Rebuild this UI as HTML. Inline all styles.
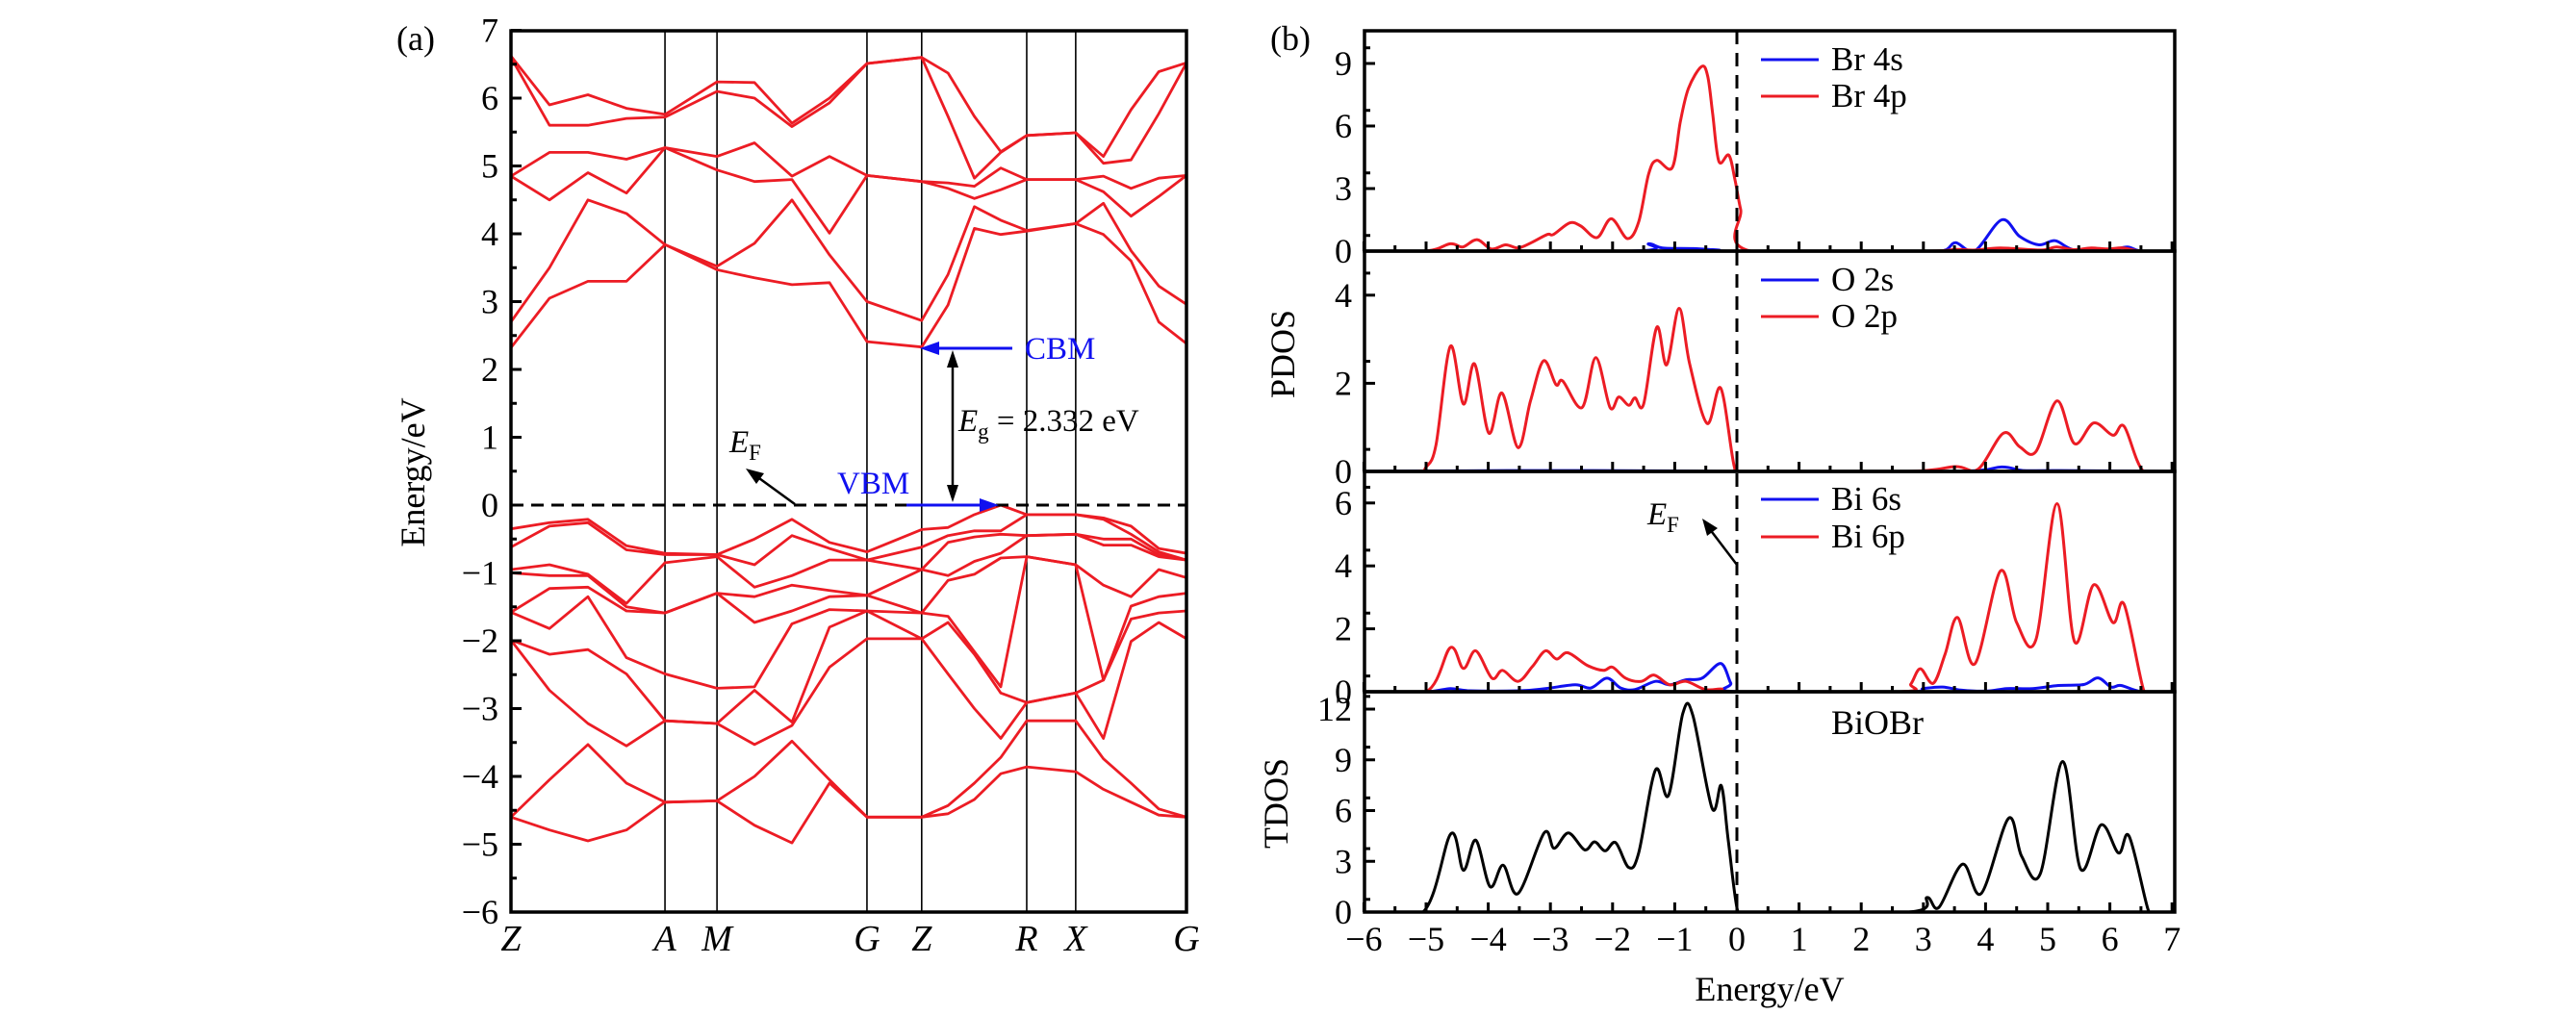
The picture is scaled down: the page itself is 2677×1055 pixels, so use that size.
<!DOCTYPE html>
<html>
<head>
<meta charset="utf-8">
<style>
html,body{margin:0;padding:0;background:#fff;}
svg{display:block;font-family:"Liberation Serif",serif;}
</style>
</head>
<body>
<svg id="chart" xmlns="http://www.w3.org/2000/svg" width="2677" height="1055" viewBox="0 0 2677 1055">
  <rect x="0" y="0" width="2677" height="1055" fill="#fff"/>
  <g id="panelA"></g>
  <g id="panelB"></g>
</svg>
<script>
// ---------------- DATA ----------------
const symLabels = ["Z","A","M","G","Z","R","X","G"];
const symK = [0, 0.228, 0.305, 0.527, 0.608, 0.7635, 0.836, 1.0];
const kGrid = [0,0.057,0.114,0.171,0.228,0.305,0.3605,0.416,0.4715,0.527,0.608,0.647,0.686,0.725,0.7635,0.836,0.877,0.918,0.959,1.0];
const valenceCols = [
 [-0.35,-0.62,-0.95,-1.0,-1.58,-1.58,-1.99,-1.99,-4.6,-4.6],
 [-0.26,-0.31,-0.88,-1.04,-1.23,-1.82,-2.2,-2.73,-4.05,-4.79],
 [-0.21,-0.26,-1.02,-1.04,-1.21,-1.35,-2.13,-3.22,-3.53,-4.95],
 [-0.6,-0.66,-1.45,-1.5,-1.56,-2.25,-2.49,-3.55,-4.1,-4.79],
 [-0.71,-0.73,-0.85,-1.59,-1.59,-2.49,-3.18,-3.18,-4.38,-4.38],
 [-0.73,-0.73,-0.76,-1.3,-1.3,-2.7,-3.22,-3.22,-4.36,-4.36],
 [-0.5,-0.88,-1.21,-1.35,-1.73,-2.68,-2.73,-3.53,-4.0,-4.72],
 [-0.21,-0.45,-1.04,-1.18,-1.56,-1.75,-3.2,-3.25,-3.48,-4.98],
 [-0.55,-0.64,-0.81,-1.26,-1.35,-1.54,-1.8,-2.39,-4.05,-4.1],
 [-0.69,-0.81,-0.81,-1.33,-1.33,-1.56,-1.56,-1.97,-4.6,-4.6],
 [-0.36,-0.62,-0.95,-0.95,-1.59,-1.59,-1.97,-1.97,-4.6,-4.6],
 [-0.33,-0.45,-0.55,-1.04,-1.11,-1.64,-1.73,-2.49,-4.43,-4.55],
 [-0.14,-0.38,-0.47,-0.83,-1.02,-2.16,-2.2,-3.0,-4.1,-4.34],
 [0,-0.38,-0.43,-0.71,-0.78,-2.68,-2.77,-3.44,-3.72,-3.96],
 [-0.14,-0.14,-0.45,-0.45,-0.76,-0.76,-2.91,-2.91,-3.18,-3.86],
 [-0.14,-0.14,-0.43,-0.43,-0.88,-0.88,-2.77,-2.77,-3.18,-3.93],
 [-0.19,-0.21,-0.5,-0.59,-1.18,-2.58,-2.58,-3.44,-3.74,-4.19],
 [-0.31,-0.43,-0.5,-0.59,-1.35,-1.49,-1.68,-2.01,-4.1,-4.38],
 [-0.64,-0.69,-0.73,-0.76,-0.95,-1.35,-1.59,-1.73,-4.48,-4.57],
 [-0.71,-0.81,-0.81,-0.81,-1.07,-1.3,-1.56,-1.97,-4.6,-4.6]
];
const conductionCols = [
 [2.32,2.7,4.85,4.85,6.6,6.62],
 [3.05,3.5,4.5,5.2,5.6,5.9],
 [3.3,4.5,4.9,5.2,5.6,6.05],
 [3.3,4.3,4.6,5.1,5.7,5.85],
 [3.84,3.84,5.27,5.27,5.72,5.76],
 [3.47,3.52,4.94,5.14,6.1,6.24],
 [3.35,3.86,4.77,5.34,6.0,6.23],
 [3.25,4.5,4.8,4.85,5.58,5.63],
 [3.28,3.69,4.01,5.14,5.93,6.0],
 [2.41,3.0,4.86,4.86,6.51,6.51],
 [2.33,2.72,4.77,4.77,6.6,6.6],
 [2.95,3.4,4.67,4.75,5.73,6.37],
 [4.08,4.4,4.52,4.7,4.82,5.73],
 [3.99,4.2,4.65,4.97,5.2,5.21],
 [4.04,4.05,4.8,4.8,5.45,5.45],
 [4.15,4.15,4.8,4.8,5.49,5.49],
 [3.99,4.45,4.62,4.85,5.04,5.14],
 [3.6,3.75,4.26,4.67,5.09,5.83],
 [2.7,3.23,4.55,4.82,5.77,6.39],
 [2.38,2.96,4.86,4.86,6.52,6.52]
];
const bandYTicks = [-6,-5,-4,-3,-2,-1,0,1,2,3,4,5,6,7];

const br4pE = [-6,-5.0,-4.61,-4.41,-4.18,-3.95,-3.72,-3.52,-3.31,-3.05,-2.95,-2.69,-2.51,-2.25,-2.02,-1.76,-1.58,-1.42,-1.29,-1.04,-0.91,-0.78,-0.57,-0.47,-0.39,-0.29,-0.13,-0.03,0.06,0.22,3.0,3.52,3.83,4.24,4.9,5.14,5.42,5.7,5.96,6.21,6.5,7];
const br4pV = [0,0,0.35,0.2,0.55,0.1,0.3,0.15,0.4,0.8,0.8,1.35,1.2,0.65,1.55,0.6,1.4,3.7,4.35,4.0,6.2,7.8,8.85,8.4,6.6,4.3,4.6,3.4,2.0,0,0,0.08,0.05,0.15,0.05,0.2,0.07,0.15,0.1,0.15,0,0];
const br4sE = [-6,-1.7,-1.42,-1.2,-0.7,-0.3,0,3.0,3.35,3.52,3.83,4.26,4.55,4.86,5.12,5.43,5.99,6.28,6.5,7];
const br4sV = [0,0,0.35,0.15,0.12,0.05,0,0,0.05,0.4,0.02,1.5,0.7,0.3,0.5,0.05,0.05,0.2,0,0];
const o2pE = [-6,-5.15,-5.0,-4.84,-4.61,-4.40,-4.22,-3.99,-3.78,-3.52,-3.32,-3.11,-2.91,-2.80,-2.49,-2.27,-2.04,-1.90,-1.74,-1.64,-1.50,-1.29,-1.13,-0.93,-0.76,-0.48,-0.26,-0.04,0.1,2.74,3.52,3.88,4.29,4.55,4.81,5.15,5.43,5.74,6.05,6.23,6.54,7];
const o2pV = [0,0,0.1,0.6,2.84,1.53,2.44,0.87,1.78,0.54,1.6,2.51,1.97,2.05,1.45,2.58,1.45,1.69,1.5,1.67,1.53,3.27,2.42,3.7,2.44,1.09,1.89,0.1,0,0,0.11,0.05,0.87,0.56,0.45,1.6,0.63,1.1,0.82,1.02,0,0];
const o2sE = [-6,-5,-3,-1,0,3.5,4.26,4.6,5.2,7];
const o2sV = [0,0.01,0.02,0.01,0,0,0.1,0.02,0.02,0];
const bi6pE = [-6,-5.0,-4.61,-4.40,-4.2,-3.94,-3.77,-3.52,-3.29,-3.08,-2.9,-2.72,-2.41,-2.15,-2.0,-1.79,-1.54,-1.33,-1.08,-0.82,-0.51,-0.25,-0.04,2.64,2.8,2.95,3.16,3.35,3.55,3.83,4.24,4.5,4.81,5.15,5.43,5.74,6.05,6.23,6.54,6.67,7];
const bi6pV = [0,0,1.4,0.74,1.3,0.43,0.68,0.33,0.8,1.3,1.04,1.24,0.84,0.68,0.78,0.43,0.33,0.53,0.22,0.33,0.07,0.09,0,0,0.25,0.73,0.27,1.2,2.36,0.89,3.84,2.2,1.65,5.98,1.6,3.4,2.2,2.77,0.07,0,0];
const bi6sE = [-6,-5.0,-4.61,-4.3,-3.5,-3.08,-2.6,-2.35,-2.09,-1.87,-1.64,-1.31,-1.08,-0.82,-0.56,-0.26,-0.1,0,2.7,3.0,3.31,3.62,4.03,4.34,4.76,5.17,5.58,5.81,6.02,6.18,6.51,7];
const bi6sV = [0,0,0.1,0.03,0.03,0.1,0.22,0.12,0.43,0.12,0.07,0.33,0.22,0.38,0.43,0.9,0.28,0,0,0.1,0.15,0.05,0.02,0.1,0.1,0.2,0.23,0.44,0.15,0.2,0,0];
const tdosE = [-6,-5.05,-4.6,-4.4,-4.2,-3.97,-3.76,-3.52,-3.1,-2.94,-2.71,-2.45,-2.29,-2.12,-1.95,-1.74,-1.58,-1.31,-1.1,-0.87,-0.71,-0.4,-0.25,-0.14,0.01,0.15,2.77,3.06,3.25,3.63,3.93,4.37,4.58,4.88,5.24,5.53,5.86,6.14,6.31,6.61,6.7,7];
const tdosV = [0,0,4.63,2.47,4.25,1.5,2.77,1.1,4.68,3.77,4.68,3.68,4.15,3.62,4.1,2.64,3.49,8.4,6.9,11.74,11.65,6.14,7.47,4.25,0.1,0,0,0.86,0.28,2.83,1.1,5.54,3.3,2.25,8.9,2.54,5.16,3.49,4.48,0.2,0,0];
const dosXTicks = [-6,-5,-4,-3,-2,-1,0,1,2,3,4,5,6,7];
const brTicks = [0,3,6,9];
const oTicks = [0,2,4];
const biTicks = [0,2,4,6];
const tdosTicks = [0,3,6,9,12];

// ---------------- HELPERS ----------------
const NS = "http://www.w3.org/2000/svg";
const RED = "#ec1c24", BLUE = "#1010f0";
function el(tag, parent) { const e = document.createElementNS(NS, tag); parent.appendChild(e); return e; }
function setA(e, o) { for (const k in o) e.setAttribute(k, o[k]); return e; }

const AX0 = 531, AX1 = 1233, AY0 = 32, AY1 = 948;
const xA = k => AX0 + k * (AX1 - AX0);
const yA = E => 525 - E * 70.5;
const BX0 = 1418, BX1 = 2260;
const xB = E => 1805 + E * 64.6;
const subs = [
  {name:"br", top:32, zero:261, scale:21.67, ticks:brTicks, minor:1.5},
  {name:"o", top:261, zero:490, scale:45.8, ticks:oTicks, minor:1},
  {name:"bi", top:490, zero:719, scale:32.7, ticks:biTicks, minor:1},
  {name:"tdos", top:719, zero:948, scale:17.58, ticks:tdosTicks, minor:1.5}
];

function smoothPath(pts) {
  let d = "M" + pts[0][0].toFixed(1) + "," + pts[0][1].toFixed(1);
  for (let i = 0; i < pts.length - 1; i++) {
    const p0 = pts[Math.max(0, i - 1)], p1 = pts[i], p2 = pts[i + 1], p3 = pts[Math.min(pts.length - 1, i + 2)];
    const c1x = p1[0] + (p2[0] - p0[0]) / 6, c1y = p1[1] + (p2[1] - p0[1]) / 6;
    const c2x = p2[0] - (p3[0] - p1[0]) / 6, c2y = p2[1] - (p3[1] - p1[1]) / 6;
    d += "C" + c1x.toFixed(1) + "," + c1y.toFixed(1) + " " + c2x.toFixed(1) + "," + c2y.toFixed(1) + " " + p2[0].toFixed(1) + "," + p2[1].toFixed(1);
  }
  return d;
}

// ---------------- PANEL A ----------------
const gA = document.getElementById("panelA");
const defs = el("defs", document.getElementById("chart"));
let clipHtml = '<clipPath id="clipA"><rect x="531" y="32" width="702" height="916"/></clipPath>';
subs.forEach(s => { clipHtml += '<clipPath id="clip-' + s.name + '"><rect x="1418" y="' + s.top + '" width="842" height="' + (s.zero - s.top + 1.5) + '"/></clipPath>'; });
defs.innerHTML = clipHtml;

symK.slice(1, -1).forEach((k, i) => {
  const l = el("line", gA);
  setA(l, {x1: xA(k), x2: xA(k), y1: AY0, y2: AY1, stroke: "#000", "stroke-width": 1.6});
  
  
});

const gBands = el("g", gA);
gBands.setAttribute("clip-path", "url(#clipA)");


function drawBands(cols, label) {
  const nb = cols[0].length;
  for (let b = 0; b < nb; b++) {
    const pts = kGrid.map((k, j) => [xA(k), yA(cols[j][b])]);
    const p = el("polyline", gBands);
    setA(p, {points: pts.map(q => q[0].toFixed(1) + "," + q[1].toFixed(1)).join(" "), fill: "none", stroke: RED, "stroke-width": 2.8, "stroke-linejoin": "round"});
    
    
  }
}
drawBands(valenceCols, "valence");
drawBands(conductionCols, "conduction");

const fl = el("line", gA);
setA(fl, {x1: AX0, x2: AX1, y1: yA(0), y2: yA(0), stroke: "#000", "stroke-width": 3, "stroke-dasharray": "13 8"});



const frA = el("rect", gA);
setA(frA, {x: AX0, y: AY0, width: AX1 - AX0, height: AY1 - AY0, fill: "none", stroke: "#000", "stroke-width": 3.5});



bandYTicks.forEach(v => {
  const t = el("line", gA);
  setA(t, {x1: AX0, x2: AX0 + 11, y1: yA(v), y2: yA(v), stroke: "#000", "stroke-width": 3});
  
  
  if (v < 7) {
    const m = el("line", gA);
    setA(m, {x1: AX0, x2: AX0 + 6, y1: yA(v + 0.5), y2: yA(v + 0.5), stroke: "#000", "stroke-width": 3});
    
    
  }
  const tx = el("text", gA);
  setA(tx, {x: 518, y: yA(v) + 12, "text-anchor": "end", "font-size": 36, fill: "#000"});
  tx.textContent = v < 0 ? "\u2212" + Math.abs(v) : String(v);
  
  
});
symK.forEach((k, i) => {
  const tx = el("text", gA);
  setA(tx, {x: xA(k), y: 988, "text-anchor": "middle", "font-size": 38, "font-style": "italic", fill: "#000"});
  tx.textContent = symLabels[i];
  
  
});
</script>
<script>
(function(){
const g = document.getElementById("panelA");
g.insertAdjacentHTML("beforeend",
 '<text x="412" y="52" font-size="36">(a)</text>' +
 '<text transform="translate(441,491) rotate(-90)" text-anchor="middle" font-size="36">Energy/eV</text>' +
 '<line x1="1052" y1="362" x2="972" y2="362" stroke="#1010f0" stroke-width="3"/>' +
 '<path d="M956,362 L976,355 L976,369 Z" fill="#1010f0"/>' +
 '<text x="1065" y="373" font-size="33" fill="#1010f0">CBM</text>' +
 '<line x1="942" y1="525" x2="1022" y2="525" stroke="#1010f0" stroke-width="3"/>' +
 '<path d="M1038,525 L1018,518 L1018,532 Z" fill="#1010f0"/>' +
 '<text x="870" y="513" font-size="33" fill="#1010f0">VBM</text>' +
 '<line x1="990" y1="378" x2="990" y2="508" stroke="#000" stroke-width="2.5"/>' +
 '<path d="M990,364 L984,382 L996,382 Z" fill="#000"/>' +
 '<path d="M990,522 L984,504 L996,504 Z" fill="#000"/>' +
 '<text x="996" y="448" font-size="33"><tspan font-style="italic">E</tspan><tspan font-size="23" dy="8">g</tspan><tspan dy="-8"> = 2.332 eV</tspan></text>' +
 '<text x="758" y="470" font-size="33"><tspan font-style="italic">E</tspan><tspan font-size="23" dy="8">F</tspan></text>' +
 '<line x1="826" y1="524" x2="782" y2="492" stroke="#000" stroke-width="2.5"/>' +
 '<path d="M775,487 L794,492 L786,503 Z" fill="#000"/>'
);
})();
</script>
<script>
(function(){
const gB = document.getElementById("panelB");
function curve(E, V, sub, color, name) {
  const pts = E.map((e, i) => [xB(e), sub.zero - Math.max(0, V[i]) * sub.scale]);
  const p = el("path", gB);
  setA(p, {d: smoothPath(pts), fill: "none", stroke: color, "stroke-width": 3, "clip-path": "url(#clip-" + sub.name + ")"});
  
  
}
curve(br4sE, br4sV, subs[0], BLUE, "br-4s-curve");
curve(br4pE, br4pV, subs[0], RED, "br-4p-curve");
curve(o2sE, o2sV, subs[1], BLUE, "o-2s-curve");
curve(o2pE, o2pV, subs[1], RED, "o-2p-curve");
curve(bi6sE, bi6sV, subs[2], BLUE, "bi-6s-curve");
curve(bi6pE, bi6pV, subs[2], RED, "bi-6p-curve");
curve(tdosE, tdosV, subs[3], "#000", "tdos-curve");

const fv = el("line", gB);
setA(fv, {x1: xB(0), x2: xB(0), y1: 32, y2: 948, stroke: "#000", "stroke-width": 3, "stroke-dasharray": "14 9"});



subs.forEach(s => {
  dosXTicks.forEach(v => {
    const t = el("line", gB);
    setA(t, {x1: xB(v), x2: xB(v), y1: s.zero, y2: s.zero - 10, stroke: "#000", "stroke-width": 3});
    
    
    if (v < 7) {
      const m = el("line", gB);
      setA(m, {x1: xB(v + 0.5), x2: xB(v + 0.5), y1: s.zero, y2: s.zero - 6, stroke: "#000", "stroke-width": 3});
      
      
    }
  });
  s.ticks.forEach(v => {
    const y = s.zero - v * s.scale;
    const t = el("line", gB);
    setA(t, {x1: BX0, x2: BX0 + 11, y1: y, y2: y, stroke: "#000", "stroke-width": 3});
    
    
    const ym = s.zero - (v + s.minor / 2) * s.scale;
    if (ym > s.top + 4) {
      const m = el("line", gB);
      setA(m, {x1: BX0, x2: BX0 + 6, y1: ym, y2: ym, stroke: "#000", "stroke-width": 3});
      
      
    }
    const tx = el("text", gB);
    setA(tx, {x: 1405, y: y + 12, "text-anchor": "end", "font-size": 36});
    tx.textContent = String(v);
    
    
  });
  const fr = el("rect", gB);
  setA(fr, {x: BX0, y: s.top, width: BX1 - BX0, height: s.zero - s.top, fill: "none", stroke: "#000", "stroke-width": 3.5});
  
  
});
dosXTicks.forEach(v => {
  const tx = el("text", gB);
  setA(tx, {x: xB(v), y: 988, "text-anchor": "middle", "font-size": 36});
  tx.textContent = v < 0 ? "\u2212" + Math.abs(v) : String(v);
  
  
});

gB.insertAdjacentHTML("beforeend",
 '<text x="1320" y="52" font-size="36">(b)</text>' +
 '<text transform="translate(1345,368) rotate(-90)" text-anchor="middle" font-size="36">PDOS</text>' +
 '<text transform="translate(1338,835) rotate(-90)" text-anchor="middle" font-size="36">TDOS</text>' +
 '<text x="1839" y="1040" text-anchor="middle" font-size="36">Energy/eV</text>' +
 '<text x="1903" y="763" font-size="36">BiOBr</text>' +
 '<g>' +
 '<line x1="1830" x2="1890" y1="62" y2="62" stroke="#1010f0" stroke-width="3"/><text x="1903" y="73" font-size="35">Br 4s</text>' +
 '<line x1="1830" x2="1890" y1="100" y2="100" stroke="#ec1c24" stroke-width="3"/><text x="1903" y="111" font-size="35">Br 4p</text></g>' +
 '<g>' +
 '<line x1="1830" x2="1890" y1="291" y2="291" stroke="#1010f0" stroke-width="3"/><text x="1903" y="302" font-size="35">O 2s</text>' +
 '<line x1="1830" x2="1890" y1="329" y2="329" stroke="#ec1c24" stroke-width="3"/><text x="1903" y="340" font-size="35">O 2p</text></g>' +
 '<g>' +
 '<line x1="1830" x2="1890" y1="519" y2="519" stroke="#1010f0" stroke-width="3"/><text x="1903" y="530" font-size="35">Bi 6s</text>' +
 '<line x1="1830" x2="1890" y1="558" y2="558" stroke="#ec1c24" stroke-width="3"/><text x="1903" y="569" font-size="35">Bi 6p</text></g>' +
 '<text x="1712" y="545" font-size="33"><tspan font-style="italic">E</tspan><tspan font-size="23" dy="8">F</tspan></text>' +
 '<line x1="1805" y1="587" x2="1776" y2="549" stroke="#000" stroke-width="2.5"/>' +
 '<path d="M1769,539 L1785,549 L1774,557 Z" fill="#000"/>'
);
})();
</script>
</body>
</html>
